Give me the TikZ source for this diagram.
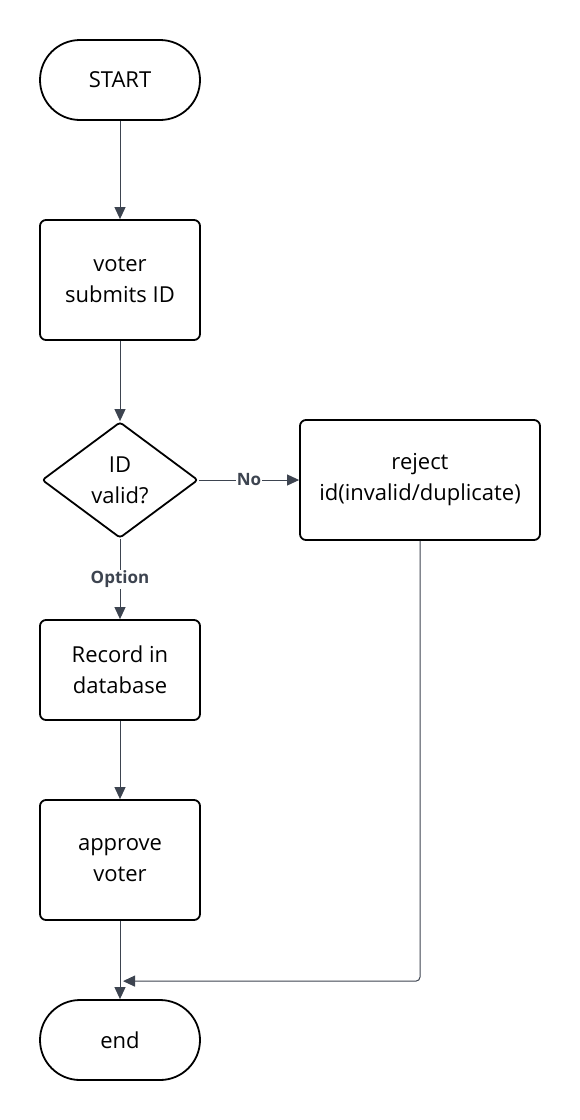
\documentclass[tikz,border=0pt]{standalone}
\usepackage{fontspec}
\setmainfont{Open Sans}
\usetikzlibrary{arrows.meta}
\usetikzlibrary{shapes.geometric}
\definecolor{linegray}{HTML}{3D4450}

\begin{document}
\begin{tikzpicture}[x=1pt,y=-1pt,
    base/.style={draw=black,line width=1.8pt,align=center,inner sep=0pt,
        font=\fontsize{22}{31}\selectfont},
    terminal/.style={base,minimum width=160pt,minimum height=80pt,rounded corners=40pt},
    process/.style={base,minimum width=160pt,minimum height=120pt,rounded corners=6pt},
    decision/.style={base,diamond,minimum width=156pt,minimum height=116pt,rounded corners=3pt},
    arr/.style={draw=linegray,line width=1pt,-{Triangle[length=12pt,width=11pt]}},
    lbl/.style={fill=white,text=linegray,inner sep=1pt,
        font=\fontsize{17}{20}\selectfont\bfseries}]
    \useasboundingbox (0,0) rectangle (580,1120);

    \node[terminal] (start) at (120,80) {START};
    \node[process] (submit) at (120,280) {voter\\submits ID};
    \node[decision] (valid) at (120,480) {ID\\valid?};
    \node[process,minimum width=240pt] (reject) at (420,480) {reject\\id(invalid/duplicate)};
    \node[process,minimum height=100pt] (record) at (120,670) {Record in\\database};
    \node[process] (approve) at (120,860) {approve\\voter};
    \node[terminal] (finish) at (120,1040) {end};

    \draw[arr] (start) -- (submit);
    \draw[arr] (submit) -- (valid);
    \draw[arr] (valid) -- node[lbl] {No} (reject);
    \draw[arr] (valid) -- node[lbl] {Option} (record);
    \draw[arr] (record) -- (approve);
    \draw[arr] (approve) -- (finish);
    \draw[arr,rounded corners=4pt] (reject.south) |- ([xshift=3pt,yshift=18pt]finish.north);
\end{tikzpicture}
\end{document}
